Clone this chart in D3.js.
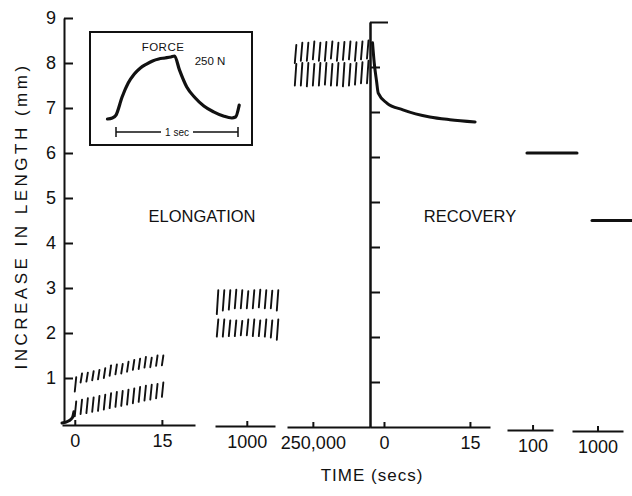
<!DOCTYPE html>
<html>
<head>
<meta charset="utf-8">
<script src="https://cdn.jsdelivr.net/npm/d3@7"></script>
<style>
  body { margin: 0; background: #fff; }
  text { font-family: "Liberation Sans", Arial, sans-serif; fill: #111; }
  .axis path, .axis line { stroke: #111; stroke-width: 2; }
  .axis text { font-size: 18px; fill: #111; font-family: "Liberation Sans", Arial, sans-serif; }
</style>
</head>
<body>
<div class="creep_chart"></div>
<script>
// length axis (mm)
var yTicks = [1, 2, 3, 4, 5, 6, 7, 8, 9];

// elongation, first 15 s : one stroke per load cycle
var elongTimes    = [0, 1, 2, 3, 4, 5, 6, 7, 8, 9, 10, 11, 12, 13, 14, 15];
var elongUpperTop = [1.02, 1.10, 1.12, 1.15, 1.18, 1.22, 1.28, 1.30, 1.31, 1.36, 1.40, 1.43, 1.47, 1.45, 1.50, 1.50];
var elongUpperBot = [0.70, 0.90, 0.92, 0.95, 0.97, 1.00, 1.05, 1.08, 1.10, 1.14, 1.18, 1.20, 1.23, 1.24, 1.27, 1.28];
var elongLowerTop = [0.48, 0.52, 0.55, 0.57, 0.60, 0.63, 0.66, 0.69, 0.71, 0.74, 0.77, 0.80, 0.83, 0.85, 0.87, 0.90];
var elongLowerBot = [0.15, 0.20, 0.22, 0.25, 0.27, 0.30, 0.33, 0.36, 0.38, 0.41, 0.44, 0.47, 0.50, 0.52, 0.55, 0.58];
var hookTimes  = [-2.2, -1.0, -0.4, -0.15];
var hookValues = [0.0, 0.05, 0.12, 0.25];

// elongation around 1000 s
var t1000Times    = [995, 996, 997, 998, 999, 1000, 1001, 1002, 1003, 1004, 1005];
var t1000UpperTop = [2.95, 2.95, 2.95, 2.96, 2.95, 2.93, 2.95, 2.96, 2.95, 2.94, 2.95];
var t1000UpperBot = [2.42, 2.50, 2.52, 2.55, 2.55, 2.55, 2.55, 2.57, 2.55, 2.55, 2.50];
var t1000LowerTop = [2.30, 2.30, 2.28, 2.28, 2.27, 2.30, 2.30, 2.28, 2.30, 2.28, 2.30];
var t1000LowerBot = [1.92, 1.92, 1.93, 1.93, 1.95, 1.95, 1.93, 1.93, 1.92, 1.90, 1.85];

// elongation around 250,000 s
var t250kTimes    = [249997, 249998, 249999, 250000, 250001, 250002, 250003, 250004, 250005, 250006, 250007, 250008, 250009];
var t250kUpperTop = [8.40, 8.45, 8.45, 8.48, 8.45, 8.47, 8.48, 8.45, 8.47, 8.48, 8.46, 8.48, 8.50];
var t250kUpperBot = [8.00, 8.05, 8.05, 8.08, 8.05, 8.05, 8.10, 8.05, 8.07, 8.08, 8.05, 8.08, 8.10];
var t250kLowerTop = [7.98, 8.00, 8.00, 7.98, 8.00, 8.00, 7.98, 8.00, 8.00, 7.98, 8.00, 8.02, 8.05];
var t250kLowerBot = [7.50, 7.50, 7.48, 7.50, 7.50, 7.52, 7.50, 7.50, 7.48, 7.50, 7.52, 7.55, 7.55];

// recovery after unloading
var recoveryTimes  = [-2.0, -1.7, -1.3, -1.0, 0.5, 3.3, 8.0, 11.5, 15.9];
var recoveryValues = [8.45, 8.0, 7.6, 7.33, 7.11, 6.96, 6.80, 6.74, 6.69];
var hold100Times   = [89, 187];
var hold100Values  = [6.0, 6.0];
var hold1000Times  = [892, 1680];
var hold1000Values = [4.5, 4.5];

// inset: one force cycle
var insetTimes = [-0.07, -0.03, 0.0, 0.05, 0.1, 0.15, 0.2, 0.25, 0.3, 0.35, 0.4, 0.45, 0.48, 0.52, 0.58, 0.65, 0.72, 0.8, 0.88, 0.95, 0.98, 1.01];
var insetForce = [-4, 0, 12, 86, 143, 180, 205, 221, 234, 242, 246, 250, 254, 197, 127, 82, 49, 25, 8, 0, 4, 53];

var width = 632, height = 496;

var svg = d3.select(".creep_chart").append("svg")
  .attr("width", width)
  .attr("height", height);

var y = d3.scaleLinear().domain([0, 9]).range([423, 18]);

// broken time axis, one piece per segment
var segments = [
  {domain: [-2.2, 20.7], range: [62, 195], base: 425, ticks: [0, 15], fmt: d3.format("d")},
  {domain: [994.7, 1004.7], range: [215, 275], base: 426, ticks: [1000], fmt: d3.format("d")},
  {domain: [249995.7, 250009.5], range: [287, 370], base: 427, ticks: [250000], fmt: d3.format(",")},
  {domain: [-2.44, 18.5], range: [370, 490], base: 427, ticks: [0, 15], fmt: d3.format("d")},
  {domain: [50, 140], range: [507, 553], base: 430, ticks: [100], fmt: d3.format("d")},
  {domain: [500, 1500], range: [572, 623], base: 431, ticks: [1000], fmt: d3.format("d")}
];
segments.forEach(function (s) {
  s.x = d3.scaleLinear().domain(s.domain).range(s.range);
  svg.append("g")
      .attr("class", "axis")
      .attr("transform", "translate(0," + s.base + ")")
      .call(d3.axisBottom(s.x).tickValues(s.ticks).tickFormat(s.fmt)
        .tickSizeInner(-5).tickSizeOuter(0).tickPadding(9));
});

// left length axis
svg.append("g")
    .attr("class", "axis")
    .attr("transform", "translate(64,0)")
    .call(d3.axisLeft(y).tickValues(yTicks).tickSizeInner(-9).tickSizeOuter(0).tickPadding(8));

// recovery axis (no labels)
var recAxis = svg.append("g")
    .attr("class", "axis")
    .attr("transform", "translate(370,4)");
recAxis.call(d3.axisRight(y).tickValues(yTicks.slice(0, 8)).tickFormat("").tickSizeInner(10).tickSizeOuter(0));
recAxis.append("g")
    .call(d3.axisRight(y).tickValues([9]).tickFormat("").tickSizeInner(18).tickSizeOuter(0));

function strokes(x, times, bot, top) {
  var rows = times.map(function (t, i) { return {t: t, b: bot[i], h: top[i]}; });
  svg.append("g").selectAll("line")
    .data(rows)
    .enter().append("line")
      .attr("x1", function (d) { return x(d.t); })
      .attr("y1", function (d) { return y(d.b); })
      .attr("x2", function (d) { return x(d.t + 0.25); })
      .attr("y2", function (d) { return y(d.h); })
      .style("stroke", "#111")
      .style("stroke-width", 1.9)
      .style("stroke-linecap", "round");
}

function curve(x, times, values, w, kind) {
  var pts = times.map(function (t, i) { return [t, values[i]]; });
  var line = d3.line()
    .curve(kind || d3.curveLinear)
    .x(function (d) { return x(d[0]); })
    .y(function (d) { return y(d[1]); });
  return svg.append("path")
      .attr("d", line(pts))
      .style("fill", "none")
      .style("stroke", "#111")
      .style("stroke-width", w)
      .style("stroke-linecap", "round");
}

var s = segments;
strokes(s[0].x, elongTimes, elongUpperBot, elongUpperTop);
strokes(s[0].x, elongTimes, elongLowerBot, elongLowerTop);
curve(s[0].x, hookTimes, hookValues, 3, d3.curveMonotoneX);
strokes(s[1].x, t1000Times, t1000UpperBot, t1000UpperTop);
strokes(s[1].x, t1000Times, t1000LowerBot, t1000LowerTop);
strokes(s[2].x, t250kTimes, t250kUpperBot, t250kUpperTop);
strokes(s[2].x, t250kTimes, t250kLowerBot, t250kLowerTop);
curve(s[3].x, recoveryTimes, recoveryValues, 3, d3.curveMonotoneX);
curve(s[4].x, hold100Times, hold100Values, 3);
curve(s[5].x, hold1000Times, hold1000Values, 3);

// labels
svg.append("text")
    .attr("transform", "translate(27,216) rotate(-90)")
    .attr("text-anchor", "middle")
    .style("font-size", "17px")
    .style("letter-spacing", "3.5px")
    .text("INCREASE IN LENGTH (mm)");

svg.append("text")
    .attr("x", 372).attr("y", 481)
    .attr("text-anchor", "middle")
    .style("font-size", "17px")
    .style("letter-spacing", "1px")
    .text("TIME (secs)");

svg.append("text")
    .attr("x", 202).attr("y", 222)
    .attr("text-anchor", "middle")
    .style("font-size", "16.5px")
    .text("ELONGATION");

svg.append("text")
    .attr("x", 470).attr("y", 222)
    .attr("text-anchor", "middle")
    .style("font-size", "16.5px")
    .text("RECOVERY");

// inset box
var inset = svg.append("g");
inset.append("rect")
    .attr("x", 90).attr("y", 32)
    .attr("width", 162).attr("height", 113)
    .style("fill", "#fff")
    .style("stroke", "#111")
    .style("stroke-width", 2);

var ix = d3.scaleLinear().domain([0, 1]).range([116, 238]),
    iy = d3.scaleLinear().domain([0, 250]).range([118, 57]);

var iline = d3.line()
  .curve(d3.curveMonotoneX)
  .x(function (d) { return ix(d[0]); })
  .y(function (d) { return iy(d[1]); });

inset.append("path")
    .attr("d", iline(insetTimes.map(function (t, i) { return [t, insetForce[i]]; })))
    .style("fill", "none")
    .style("stroke", "#111")
    .style("stroke-width", 3.2)
    .style("stroke-linecap", "round");

inset.append("text")
    .attr("x", 163).attr("y", 51)
    .attr("text-anchor", "middle")
    .style("font-size", "11.5px")
    .style("letter-spacing", "0.5px")
    .text("FORCE");

inset.append("text")
    .attr("x", 210).attr("y", 65)
    .attr("text-anchor", "middle")
    .style("font-size", "11.5px")
    .text("250 N");

// 1 sec scale bar
var barY = 132;
inset.append("path")
    .attr("d", "M" + ix(0) + "," + barY + "H" + (ix(0.5) - 16) +
               "M" + (ix(0.5) + 16) + "," + barY + "H" + ix(1) +
               "M" + ix(0) + "," + (barY - 5) + "V" + (barY + 5) +
               "M" + ix(1) + "," + (barY - 5) + "V" + (barY + 5))
    .style("stroke", "#111")
    .style("stroke-width", 1.5)
    .style("fill", "none");

inset.append("text")
    .attr("x", ix(0.5)).attr("y", barY)
    .attr("dy", "0.35em")
    .attr("text-anchor", "middle")
    .style("font-size", "10px")
    .text("1 sec");
</script>
</body>
</html>
